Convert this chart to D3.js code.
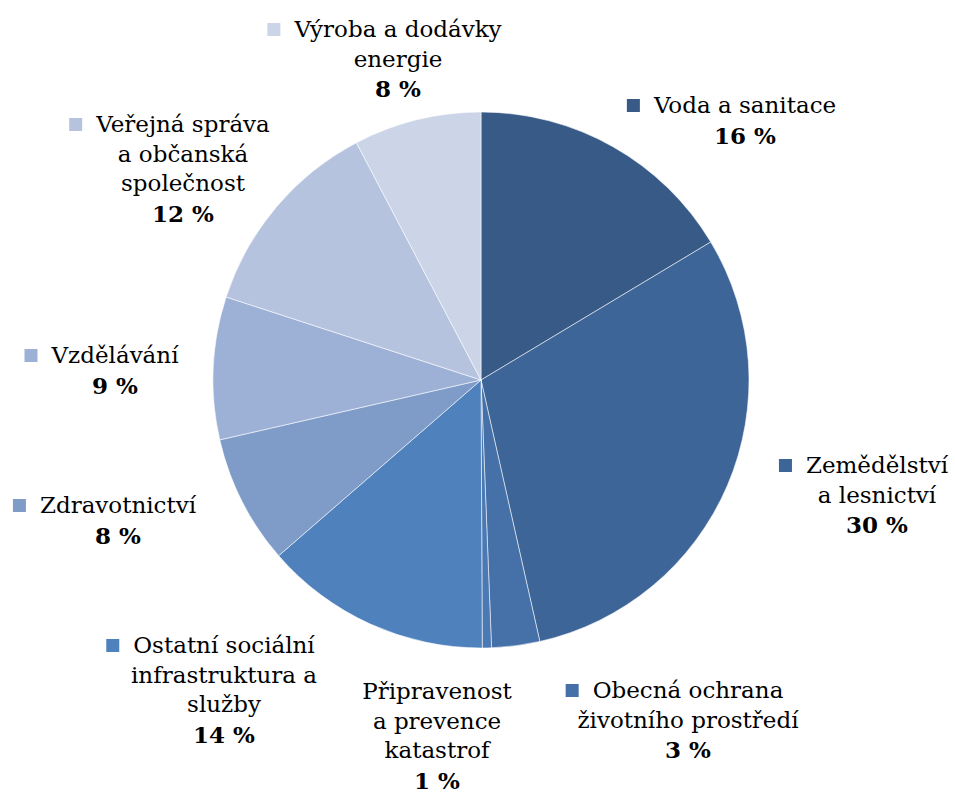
<!DOCTYPE html>
<html>
<head>
<meta charset="utf-8">
<script src="https://cdn.jsdelivr.net/npm/d3@7"></script>
<style>
  html, body { margin: 0; padding: 0; background: #fff; }
  #chart { width: 955px; height: 793px; }
  text { font-family: "DejaVu Serif", "Liberation Serif", serif; fill: #000; }
</style>
</head>
<body>
<div id="chart"></div>
<script>
// sectors, clockwise from 12 o'clock
var sectors = [
  'Voda a sanitace',
  'Zemědělství a lesnictví',
  'Obecná ochrana životního prostředí',
  'Připravenost a prevence katastrof',
  'Ostatní sociální infrastruktura a služby',
  'Zdravotnictví',
  'Vzdělávání',
  'Veřejná správa a občanská společnost',
  'Výroba a dodávky energie'
]
// share in %
var shares = [16.4, 30.1, 2.9, 0.55, 13.7, 7.8, 8.6, 12.3, 7.7]
// printed labels
var shareLabels = ['16 %', '30 %', '3 %', '1 %', '14 %', '8 %', '9 %', '12 %', '8 %']
var labelLines = [
  ['Voda a sanitace'],
  ['Zemědělství', 'a lesnictví'],
  ['Obecná ochrana', 'životního prostředí'],
  ['Připravenost', 'a prevence', 'katastrof'],
  ['Ostatní sociální', 'infrastruktura a', 'služby'],
  ['Zdravotnictví'],
  ['Vzdělávání'],
  ['Veřejná správa', 'a občanská', 'společnost'],
  ['Výroba a dodávky', 'energie']
]
var colors = ['#375a87', '#3d6597', '#4570a8', '#4a79b4', '#4f81bd',
              '#7f9cc9', '#9db1d6', '#b6c3df', '#ccd5e7']

// label block placement: centre x, first baseline y
var labelPos = [
  [745, 113], [877, 473], [688, 698], [437, 699], [224, 653],
  [118, 513], [115, 363], [183, 132], [398, 37]
]
var showMarker = [true, true, true, false, true, true, true, true, true]

var width = 955, height = 793
var cx = 481, cy = 380, radius = 268
var lineH = 29.5

var svg = d3.select('#chart').append('svg')
    .attr('width', width)
    .attr('height', height)

var data = sectors.map(function(s, i){
  return {name: s, value: shares[i], label: shareLabels[i], lines: labelLines[i], color: colors[i]}
})

var pie = d3.pie()
    .sort(null)
    .value(function(d){ return d.value })

var arc = d3.arc()
    .innerRadius(0)
    .outerRadius(radius)

var g = svg.append('g')
    .attr('transform', 'translate(' + cx + ',' + cy + ')')

g.selectAll('path')
    .data(pie(data))
  .enter().append('path')
    .attr('d', arc)
    .attr('fill', function(d){ return d.data.color })
    .attr('stroke', 'rgba(255,255,255,0.55)')
    .attr('stroke-width', 1)

// labels
var labels = svg.selectAll('.lbl')
    .data(data)
  .enter().append('g')
    .attr('class', 'lbl')
    .attr('transform', function(d, i){
      return 'translate(' + labelPos[i][0] + ',' + labelPos[i][1] + ')'
    })

labels.each(function(d, i){
  var el = d3.select(this)
  d.lines.forEach(function(line, k){
    var t = el.append('text')
        .attr('x', 0)
        .attr('y', k * lineH)
        .attr('text-anchor', 'middle')
        .style('font-size', '23px')
        .text(line)
    if (k === 0 && showMarker[i]) {
      var w = t.node().getComputedTextLength()
      el.append('rect')
          .attr('x', -w / 2 - 27)
          .attr('y', -14)
          .attr('width', 13)
          .attr('height', 13)
          .attr('fill', d.color)
    }
  })
  el.append('text')
      .attr('x', 0)
      .attr('y', d.lines.length * lineH + 1)
      .attr('text-anchor', 'middle')
      .style('font-size', '23px')
      .style('font-weight', 'bold')
      .text(d.label)
})
</script>
</body>
</html>
